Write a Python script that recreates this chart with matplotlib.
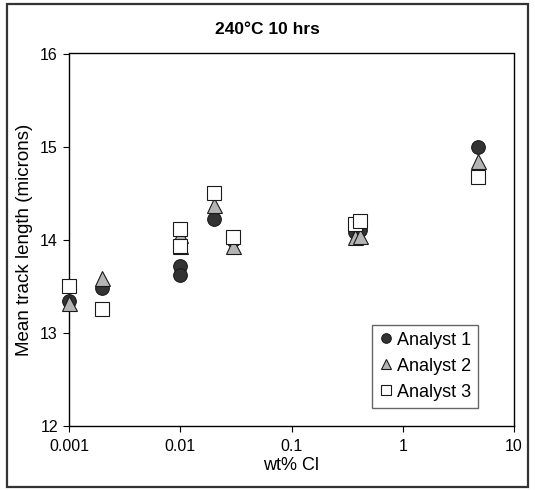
import matplotlib.pyplot as plt
from matplotlib.patches import Rectangle
from matplotlib.ticker import FixedLocator, FixedFormatter, NullLocator

plt.rcParams['font.family'] = ['Liberation Sans', 'DejaVu Sans']

# data
a1_x = [0.001, 0.002, 0.01, 0.01, 0.02, 0.03, 0.37, 0.41, 4.7]
a1_y = [13.34, 13.48, 13.72, 13.62, 14.22, 14.00, 14.08, 14.10, 14.99]
a2_x = [0.001, 0.002, 0.01, 0.01, 0.02, 0.03, 0.37, 0.41, 4.7]
a2_y = [13.32, 13.59, 14.05, 13.93, 14.37, 13.93, 14.03, 14.04, 14.84]
a3_x = [0.001, 0.002, 0.01, 0.01, 0.02, 0.03, 0.37, 0.41, 4.7]
a3_y = [13.50, 13.25, 14.11, 13.93, 14.50, 14.03, 14.17, 14.20, 14.67]

x_ticks = [0.001, 0.01, 0.1, 1, 10]
x_labels = ['0.001', '0.01', '0.1', '1', '10']
y_ticks = [12, 13, 14, 15, 16]

fig = plt.figure(figsize=(5.35, 4.9), dpi=100)
ax = fig.add_axes([69/535, 1 - 425.5/490, 445/535, 372/490])

ax.plot(a1_x, a1_y, 'o', ms=9.8, mfc='#333333', mec='#1a1a1a', mew=0.8,
        label='Analyst 1', zorder=3, clip_on=False)
ax.plot(a2_x, a2_y, '^', ms=10.8, mfc='#b4b4b4', mec='#1a1a1a', mew=0.8,
        label='Analyst 2', zorder=4, clip_on=False)
ax.plot(a3_x, a3_y, 's', ms=9.8, mfc='white', mec='#1a1a1a', mew=0.8,
        label='Analyst 3', zorder=5, clip_on=False)

ax.set_xscale('log')
ax.set_xlim(0.001, 10)
ax.set_ylim(12, 16)
ax.xaxis.set_major_locator(FixedLocator(x_ticks))
ax.xaxis.set_major_formatter(FixedFormatter(x_labels))
ax.xaxis.set_minor_locator(NullLocator())
ax.set_yticks(y_ticks)

ax.tick_params(direction='out', length=4, width=0.8, labelsize=11.5)
ax.tick_params(axis='x', pad=6)
ax.tick_params(axis='y', pad=4)
for s in ax.spines.values():
    s.set_linewidth(1.0)
    s.set_color('black')

ax.set_xlabel('wt% Cl', fontsize=13, labelpad=2)
ax.set_ylabel('Mean track length (microns)', fontsize=13.5, labelpad=5)
fig.text(0.5, 1 - 29/490, '240°C 10 hrs', fontsize=12.5, fontweight='bold',
         ha='center', va='center')

leg = ax.legend(loc='lower right', bbox_to_anchor=(0.919, 0.047),
                borderaxespad=0, fontsize=13, markerscale=0.7,
                handlelength=0.7, handletextpad=0.25, labelspacing=0.5,
                borderpad=0.4, fancybox=False, framealpha=1)
leg.get_frame().set_edgecolor('#666666')
leg.get_frame().set_linewidth(1.0)

fig.patches.append(Rectangle((7/535, 1 - 487/490), 521/535, 483/490,
                             transform=fig.transFigure, fill=False,
                             edgecolor='#333333', linewidth=1.6))

fig.savefig('out.png', dpi=100)
